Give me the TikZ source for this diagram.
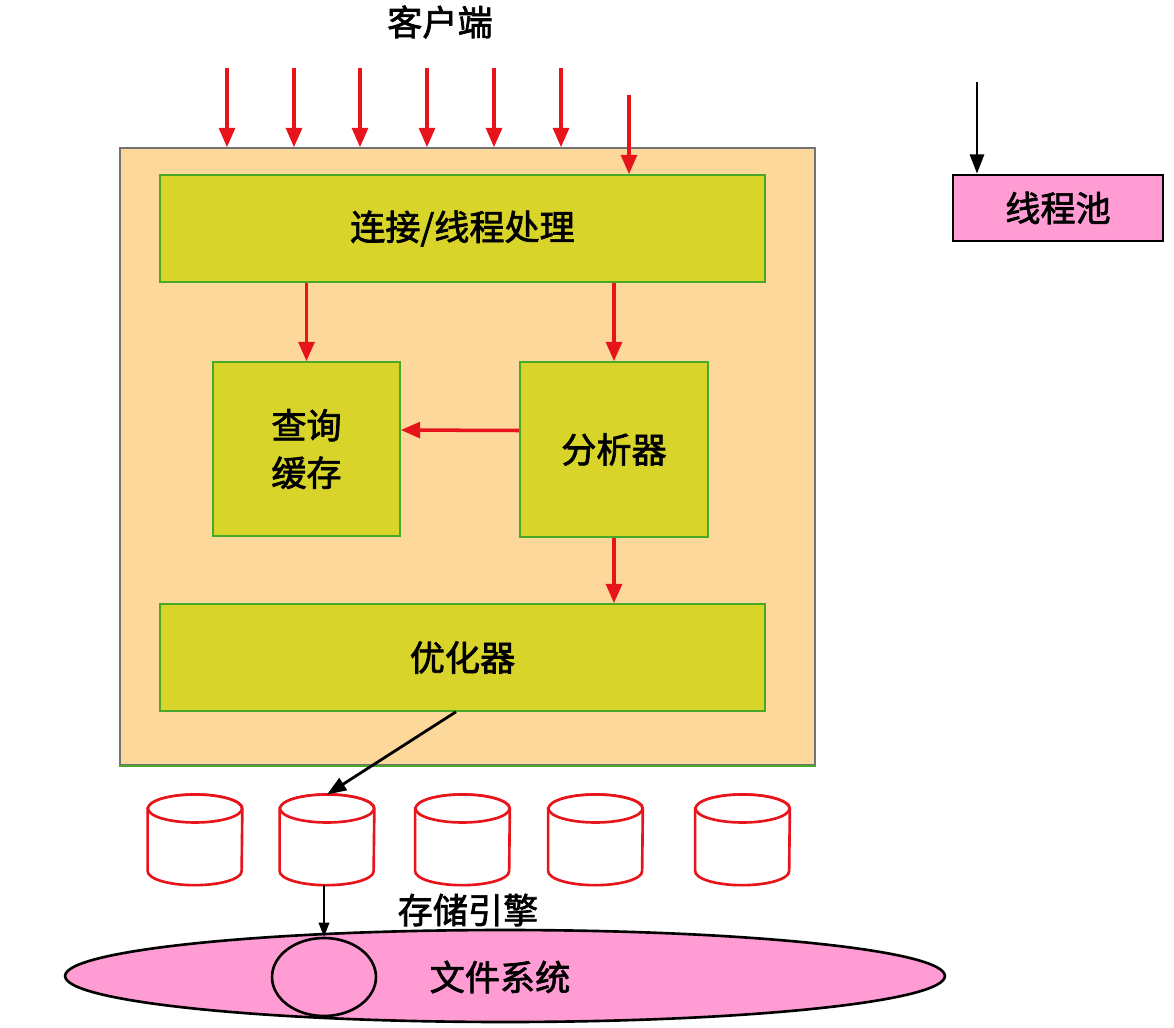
\documentclass[tikz,border=0pt]{standalone}
\usepackage{fontspec}
\newfontfamily\cjk[BoldFont={Noto Sans CJK SC}, BoldFeatures={FakeBold=2}]{Noto Sans CJK SC}
\usetikzlibrary{arrows.meta,shapes.geometric}

\definecolor{serverbg}{RGB}{253,216,155}
\definecolor{olivebox}{RGB}{216,212,42}
\definecolor{boxline}{RGB}{70,170,40}
\definecolor{pinkfill}{RGB}{255,156,212}
\definecolor{arrowred}{RGB}{232,20,27}

\begin{document}
\begin{tikzpicture}[x=0.02cm, y=-0.02cm,
    every node/.style={font=\cjk\bfseries\fontsize{20}{27}\selectfont},
    layer/.style={draw=boxline, line width=0.9pt, fill=olivebox, inner sep=0pt, align=center},
    redarrow/.style={draw=arrowred, line width=2pt, -{Triangle[length=11pt, width=9pt]}},
    blackarrow/.style={draw=black, line width=1.6pt, -{Triangle[length=11pt, width=8pt]}},
    engine/.style={minimum width=1.88cm, minimum height=1.8cm, inner sep=0pt},
    dbline/.style={draw=arrowred, line width=1.5pt, fill=white}]
    \useasboundingbox (0,0) rectangle (1174,1028);

    % server
    \node[draw=black!55, line width=0.9pt, fill=serverbg, minimum width=13.9cm, minimum height=12.34cm, inner sep=0pt] (server) at (467.5,456.5) {};
    \draw[boxline, line width=1.1pt] (server.south west) -- (server.south east);
    \node[layer, minimum width=12.1cm, minimum height=2.14cm] (conn) at (462.5,228.5) {连接/线程处理};
    \node[layer, minimum width=3.74cm, minimum height=3.48cm] (cache) at (306.5,449) {查询\\缓存};
    \node[layer, minimum width=3.76cm, minimum height=3.5cm] (parser) at (614,449.5) {分析器};
    \node[layer, minimum width=12.1cm, minimum height=2.14cm] (opt) at (462.5,657.5) {优化器};

    % clients
    \node (client) at (440,22) {客户端};
    \foreach \x [count=\i] in {227,294,360,427,494,561} {
        \coordinate (cl\i) at (\x,68);
        \draw[redarrow] (cl\i) -- (cl\i |- server.north);
    }
    \coordinate (cl7) at (629,95);
    \draw[redarrow] (cl7) -- (cl7 |- conn.north);

    % thread pool
    \node[draw=black, line width=1.5pt, fill=pinkfill, minimum width=4.2cm, minimum height=1.32cm, inner sep=0pt] (pool) at (1058,208) {线程池};
    \coordinate (poolin) at (977,82);
    \draw[blackarrow] (poolin) -- (poolin |- pool.north);

    % inside the server
    \draw[redarrow] (conn.south -| cache.north) -- (cache.north);
    \draw[redarrow] (conn.south -| parser.north) -- (parser.north);
    \draw[redarrow] ([yshift=0.38cm]parser.west) -- ([yshift=0.38cm]cache.east);
    \draw[redarrow] (parser.south) -- (parser.south |- opt.north);

    % storage engines
    \begin{scope}[x=1cm, y=1cm]
    \foreach \x [count=\i] in {195,327,462.5,595.5,742.5} {
        \node[engine] (db\i) at ({\x*0.02},-16.8) {};
        \draw[dbline] ([yshift=-0.28cm]db\i.north west) -- ([yshift=0.28cm]db\i.south west)
            arc[start angle=180, end angle=360, x radius=0.94cm, y radius=0.28cm]
            -- ([yshift=-0.28cm]db\i.north east)
            arc[start angle=0, end angle=180, x radius=0.94cm, y radius=0.28cm] -- cycle;
        \draw[dbline] ([yshift=-0.28cm]db\i.north) ellipse [x radius=0.94cm, y radius=0.28cm];
    }
    \end{scope}
    \node (enginelabel) at (468,910) {存储引擎};
    \draw[blackarrow] ([xshift=-0.13cm]opt.south) -- (db2.north);

    % file system
    \node[ellipse, draw=black, line width=1.5pt, fill=pinkfill, minimum width=17.6cm, minimum height=1.84cm, inner sep=0pt] (fs) at (505,976) {};
    \node (fslabel) at (500,977) {文件系统};
    \node[ellipse, draw=black, line width=1.5pt, minimum width=2.08cm, minimum height=1.56cm, inner sep=0pt] (disk) at (324,977) {};
    \draw[black, line width=1.1pt, -{Triangle[length=8pt, width=6pt]}] (db2.south -| disk.north) -- (disk.north);
\end{tikzpicture}
\end{document}
